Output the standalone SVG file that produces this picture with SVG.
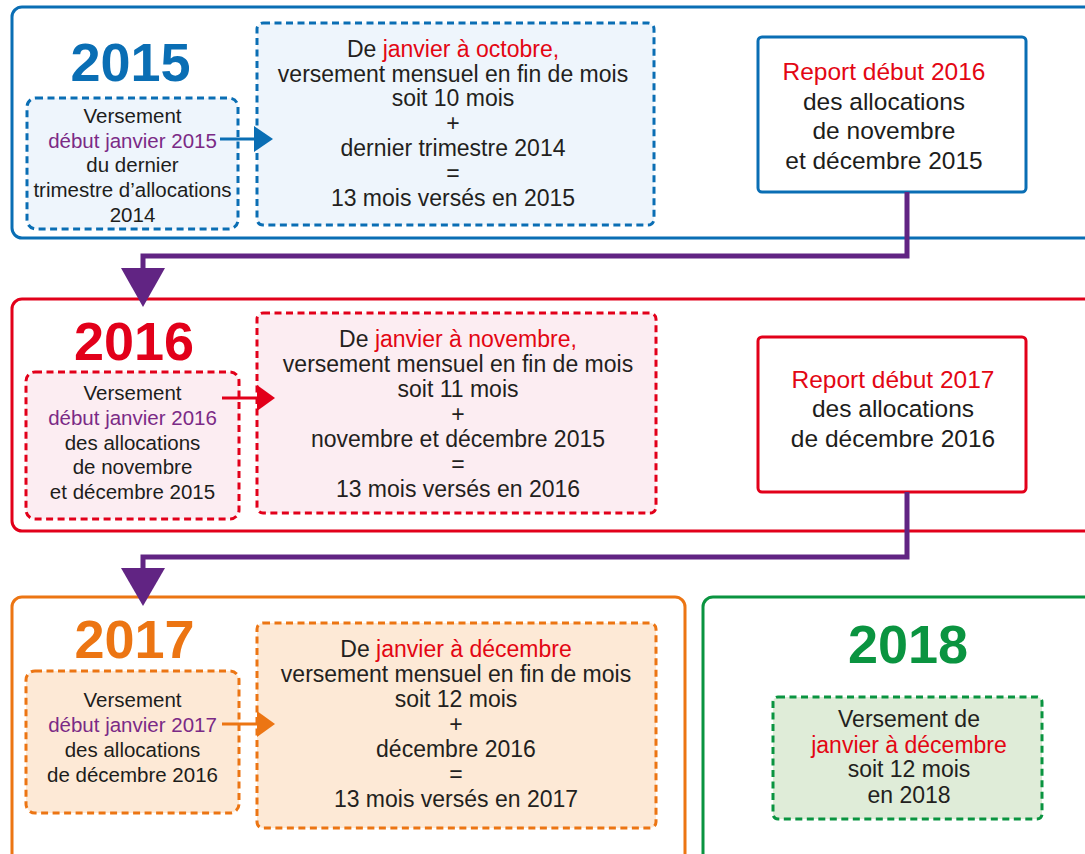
<svg xmlns="http://www.w3.org/2000/svg" width="1085" height="854" viewBox="0 0 1085 854">
<defs>
<style>
.frame{fill:none;stroke-width:3}
.dash{stroke-width:3;stroke-dasharray:7 4.5}
.title{font-family:"Liberation Sans",Arial,sans-serif;font-weight:bold;font-size:54px;text-anchor:middle}
.lt{font-family:"Liberation Sans",Arial,sans-serif;font-size:20.5px;text-anchor:middle;fill:#1d1d1b}
.mt{font-family:"Liberation Sans",Arial,sans-serif;font-size:23px;text-anchor:middle;fill:#231f20}
.rt{font-family:"Liberation Sans",Arial,sans-serif;font-size:24.5px;text-anchor:middle;fill:#1d1d1b}
.pu{fill:#7b2a86}
.rd{fill:#e30613}
.conn{fill:none;stroke:#612483;stroke-width:5}
</style>
</defs>
<rect x="0" y="0" width="1085" height="854" fill="#ffffff"/>

<g id="year2015">
<rect class="frame" x="12" y="7" width="1100" height="231" rx="10" stroke="#0a6eb4"/>
<text class="title" x="130.5" y="81" fill="#0a6eb4">2015</text>
</g>
<g id="left2015">
<rect class="dash" x="27" y="98" width="211" height="131" rx="9" fill="#eef5fc" stroke="#0a6eb4"/>
<text class="lt" x="132.5" y="123">Versement</text>
<text class="lt pu" x="132.5" y="148">début janvier 2015</text>
<text class="lt" x="132.5" y="172">du dernier</text>
<text class="lt" x="132.5" y="197">trimestre d’allocations</text>
<text class="lt" x="132.5" y="222">2014</text>
</g>
<g id="mid2015">
<rect class="dash" x="257" y="23" width="397" height="202" rx="6" fill="#eef5fc" stroke="#0a6eb4"/>
<text class="mt" x="453" y="57">De <tspan class="rd">janvier à octobre,</tspan></text>
<text class="mt" x="453" y="82">versement mensuel en fin de mois</text>
<text class="mt" x="453" y="106">soit 10 mois</text>
<text class="mt" x="453" y="131">+</text>
<text class="mt" x="453" y="156">dernier trimestre 2014</text>
<text class="mt" x="453" y="181">=</text>
<text class="mt" x="453" y="206">13 mois versés en 2015</text>
</g>
<g id="report2016">
<rect x="758" y="37" width="268" height="155" rx="4" fill="#ffffff" stroke="#0a6eb4" stroke-width="3"/>
<text class="rt rd" x="884" y="80">Report début 2016</text>
<text class="rt" x="884" y="110">des allocations</text>
<text class="rt" x="884" y="139">de novembre</text>
<text class="rt" x="884" y="169">et décembre 2015</text>
</g>

<g id="year2016">
<rect class="frame" x="12" y="299" width="1100" height="232" rx="10" stroke="#e2001a"/>
<text class="title" x="134" y="360" fill="#e2001a">2016</text>
</g>
<g id="left2016">
<rect class="dash" x="26" y="372" width="213" height="147" rx="9" fill="#fcedf2" stroke="#e2001a"/>
<text class="lt" x="132.5" y="400">Versement</text>
<text class="lt pu" x="132.5" y="425">début janvier 2016</text>
<text class="lt" x="132.5" y="450">des allocations</text>
<text class="lt" x="132.5" y="474">de novembre</text>
<text class="lt" x="132.5" y="499">et décembre 2015</text>
</g>
<g id="mid2016">
<rect class="dash" x="257" y="313" width="399" height="200" rx="6" fill="#fcedf2" stroke="#e2001a"/>
<text class="mt" x="458" y="347">De <tspan class="rd">janvier à novembre,</tspan></text>
<text class="mt" x="458" y="372">versement mensuel en fin de mois</text>
<text class="mt" x="458" y="397">soit 11 mois</text>
<text class="mt" x="458" y="422">+</text>
<text class="mt" x="458" y="447">novembre et décembre 2015</text>
<text class="mt" x="458" y="472">=</text>
<text class="mt" x="458" y="497">13 mois versés en 2016</text>
</g>
<g id="report2017">
<rect x="758" y="337" width="268" height="155" rx="4" fill="#ffffff" stroke="#e2001a" stroke-width="3"/>
<text class="rt rd" x="893" y="388">Report début 2017</text>
<text class="rt" x="893" y="417">des allocations</text>
<text class="rt" x="893" y="447">de décembre 2016</text>
</g>

<g id="year2017">
<rect class="frame" x="12" y="597" width="673" height="300" rx="10" stroke="#ec7513"/>
<text class="title" x="134.5" y="658" fill="#ec7513">2017</text>
</g>
<g id="left2017">
<rect class="dash" x="26" y="671" width="213" height="142" rx="9" fill="#fde9d6" stroke="#ec7513"/>
<text class="lt" x="132.5" y="707">Versement</text>
<text class="lt pu" x="132.5" y="732">début janvier 2017</text>
<text class="lt" x="132.5" y="757">des allocations</text>
<text class="lt" x="132.5" y="782">de décembre 2016</text>
</g>
<g id="mid2017">
<rect class="dash" x="257" y="623" width="399" height="205" rx="6" fill="#fde9d6" stroke="#ec7513"/>
<text class="mt" x="456" y="657">De <tspan class="rd">janvier à décembre</tspan></text>
<text class="mt" x="456" y="682">versement mensuel en fin de mois</text>
<text class="mt" x="456" y="707">soit 12 mois</text>
<text class="mt" x="456" y="732">+</text>
<text class="mt" x="456" y="757">décembre 2016</text>
<text class="mt" x="456" y="782">=</text>
<text class="mt" x="456" y="807">13 mois versés en 2017</text>
</g>

<g id="year2018">
<rect class="frame" x="703" y="597" width="420" height="300" rx="10" stroke="#0a9440"/>
<text class="title" x="908" y="663" fill="#0a9440">2018</text>
</g>
<g id="box2018">
<rect class="dash" x="773" y="697" width="269" height="122" rx="5" fill="#dfecd8" stroke="#0a9440"/>
<text class="mt" x="909" y="727">Versement de</text>
<text class="mt rd" x="909" y="753">janvier à décembre</text>
<text class="mt" x="909" y="777">soit 12 mois</text>
<text class="mt" x="909" y="803">en 2018</text>
</g>

<g id="connectors">
<line x1="220" y1="139" x2="256" y2="139" stroke="#0a6eb4" stroke-width="3"/>
<polygon points="254,126 273,139 254,152" fill="#0a6eb4"/>
<line x1="222" y1="398" x2="259" y2="398" stroke="#e2001a" stroke-width="3"/>
<polygon points="257,385 275,398 257,411" fill="#e2001a"/>
<line x1="222" y1="724" x2="259" y2="724" stroke="#ec7513" stroke-width="3"/>
<polygon points="257,711 275,724 257,737" fill="#ec7513"/>
<polyline class="conn" points="907,192 907,256 143,256 143,270"/>
<polygon points="121,268 165,268 143,307" fill="#612483"/>
<polyline class="conn" points="907,492 907,557 143,557 143,570"/>
<polygon points="121,568 165,568 143,606" fill="#612483"/>
</g>
</svg>
